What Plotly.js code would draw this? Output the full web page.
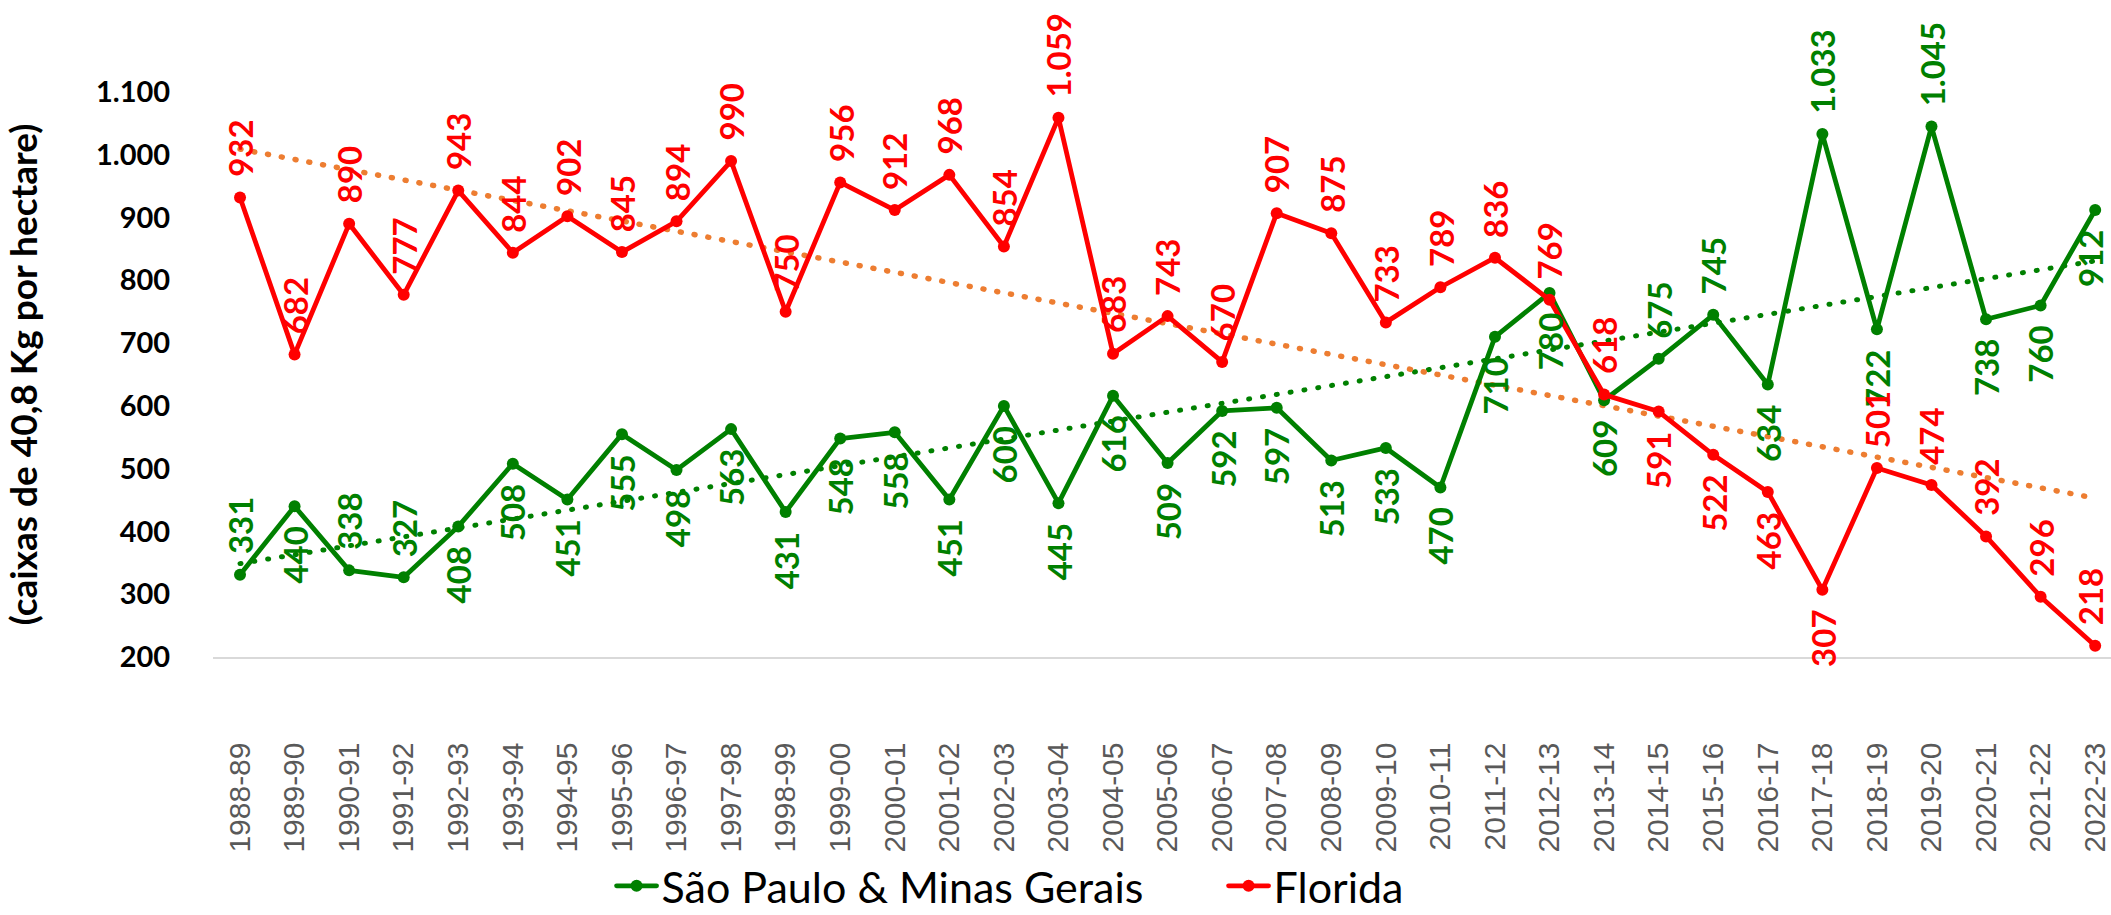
<!DOCTYPE html>
<html>
<head>
<meta charset="utf-8">
<script src="https://cdn.plot.ly/plotly-3.0.1.min.js"></script>
<style>
  html, body { margin: 0; padding: 0; background: #fff; }
  #chart { width: 2111px; height: 915px; }
  path.js-line { stroke-linecap: round; stroke-linejoin: round; }
</style>
</head>
<body>
<div id="chart"></div>
<script>
const seasons = ["1988-89","1989-90","1990-91","1991-92","1992-93","1993-94","1994-95","1995-96","1996-97","1997-98","1998-99","1999-00","2000-01","2001-02","2002-03","2003-04","2004-05","2005-06","2006-07","2007-08","2008-09","2009-10","2010-11","2011-12","2012-13","2013-14","2014-15","2015-16","2016-17","2017-18","2018-19","2019-20","2020-21","2021-22","2022-23"];
const spmgValues = [331,440,338,327,408,508,451,555,498,563,431,548,558,451,600,445,616,509,592,597,513,533,470,710,780,609,675,745,634,1033,722,1045,738,760,912];
const floridaValues = [932,682,890,777,943,844,902,845,894,990,750,956,912,968,854,1059,683,743,670,907,875,733,789,836,769,618,591,522,463,307,501,474,392,296,218];
// label side: a = above the point, b = below the point
const spmgLabelSide = ["a","b","a","a","b","b","b","b","b","b","b","b","b","b","b","b","b","b","b","b","b","b","b","b","b","b","a","a","b","a","b","a","b","b","b"];
const floridaLabelSide = ["a","a","a","a","a","a","a","a","a","a","a","a","a","a","a","a","a","a","a","a","a","a","a","a","a","a","b","b","b","b","a","a","a","a","a"];
const yTickVals = [200,300,400,500,600,700,800,900,1000,1100];

const GREEN = "#008000", RED = "#FF0000", ORANGE = "#ED7D31";
const LABEL_SIZE = 33, LABEL_GAP = 20;
const idx = seasons.map((_, i) => i);

function fmt(v) {
  return v >= 1000 ? Math.floor(v / 1000) + "." + String(v % 1000).padStart(3, "0") : String(v);
}
// approximate rendered length of a bold Lato label (digits 0.58em, period 0.27em)
function labelLength(s) {
  let em = 0;
  for (const ch of s) em += (ch === ".") ? 0.27 : 0.58;
  return em * LABEL_SIZE;
}
function trend(vals) {
  const n = vals.length;
  const xs = vals.map((_, i) => i);
  const mx = xs.reduce((a, b) => a + b, 0) / n;
  const my = vals.reduce((a, b) => a + b, 0) / n;
  let sxy = 0, sxx = 0;
  for (let i = 0; i < n; i++) { sxy += (xs[i] - mx) * (vals[i] - my); sxx += (xs[i] - mx) ** 2; }
  const b = sxy / sxx, a = my - b * mx;
  return { x: [0, n - 1], y: [a, a + b * (n - 1)] };
}
const tSp = trend(spmgValues), tFl = trend(floridaValues);

const traces = [
  { x: tSp.x, y: tSp.y, type: "scatter", mode: "lines", showlegend: false, hoverinfo: "skip",
    line: { color: GREEN, width: 5, dash: "1px,13px" } },
  { x: tFl.x, y: tFl.y, type: "scatter", mode: "lines", showlegend: false, hoverinfo: "skip",
    line: { color: ORANGE, width: 5.5, dash: "1px,13px" } },
  { x: idx, y: spmgValues, type: "scatter", mode: "lines+markers", name: "São Paulo & Minas Gerais",
    line: { color: GREEN, width: 4.8 }, marker: { color: GREEN, size: 12 } },
  { x: idx, y: floridaValues, type: "scatter", mode: "lines+markers", name: "Florida",
    line: { color: RED, width: 4.8 }, marker: { color: RED, size: 12 } }
];

function labels(vals, sides, color) {
  const last = vals.length - 1;
  return vals.map((v, i) => {
    const s = fmt(v);
    const off = LABEL_GAP + labelLength(s) / 2;
    return {
      x: i, y: v, xref: "x", yref: "y", showarrow: false, textangle: -90,
      text: "<b>" + s + "</b>",
      font: { family: "Lato, sans-serif", size: LABEL_SIZE, color: color },
      xanchor: "center", yanchor: "middle",
      xshift: i === last ? -5 : 0,
      yshift: sides[i] === "a" ? off : -off
    };
  });
}
const annotations = labels(spmgValues, spmgLabelSide, GREEN).concat(labels(floridaValues, floridaLabelSide, RED));

const layout = {
  width: 2111, height: 915,
  margin: { l: 213, r: 0, t: 92, b: 258, pad: 0, autoexpand: false },
  paper_bgcolor: "#fff", plot_bgcolor: "#fff",
  separators: ",.",
  showlegend: true,
  legend: {
    orientation: "h", x: 0.21, xanchor: "left", y: -0.405, yanchor: "middle",
    font: { family: "Lato, sans-serif", size: 43, color: "#000" },
    itemwidth: 40, tracegroupgap: 0, entrywidth: 557
  },
  xaxis: {
    range: [-0.495, 34.29],
    tickmode: "array", tickvals: idx, ticktext: seasons, tickangle: -90,
    tickfont: { family: "Liberation Sans, Arial, sans-serif", size: 30, color: "#595959" },
    ticks: "outside", ticklen: 72, tickcolor: "rgba(0,0,0,0)",
    showgrid: false, zeroline: false,
    showline: true, linecolor: "#D9D9D9", linewidth: 1.5,
    automargin: false,
    fixedrange: true
  },
  yaxis: {
    range: [200, 1100],
    tickmode: "array", tickvals: yTickVals, tickformat: ",d",
    tickfont: { family: "Lato, sans-serif", size: 29, color: "#000", weight: "bold" },
    ticks: "outside", ticklen: 36, tickcolor: "rgba(0,0,0,0)",
    showgrid: false, zeroline: false, showline: false,
    automargin: false,
    title: { text: "<b>(caixas de 40,8 Kg por hectare)</b>", standoff: 48,
             font: { family: "Lato, sans-serif", size: 37, color: "#000" } },
    fixedrange: true
  },
  annotations: annotations,
  hovermode: false
};

Plotly.newPlot("chart", traces, layout, { displayModeBar: false, staticPlot: true });
</script>
</body>
</html>
